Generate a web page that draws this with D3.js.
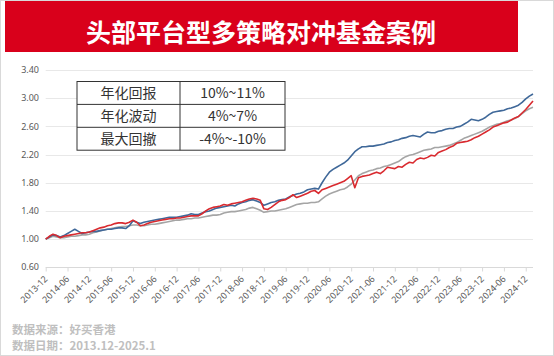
<!DOCTYPE html>
<html><head><meta charset="utf-8">
<script src="https://cdn.jsdelivr.net/npm/d3@7"></script>
<style>html,body{margin:0;padding:0;background:#fff;}svg{display:block;}</style>
</head><body>
<svg id="c" width="554" height="356"></svg>
<script>
const title = "头部平台型多策略对冲基金案例";
const startYear = 2013, startMonth = 12;
const yTicks = [0.60, 1.00, 1.40, 1.80, 2.20, 2.60, 3.00, 3.40];
const xTickLabels = ["2013-12","2014-06","2014-12","2015-06","2015-12","2016-06","2016-12","2017-06","2017-12","2018-06","2018-12","2019-06","2019-12","2020-06","2020-12","2021-06","2021-12","2022-06","2022-12","2023-06","2023-12","2024-06","2024-12"];
const tableRows = [["年化回报","10%~11%"],["年化波动","4%~7%"],["最大回撤","-4%~-10%"]];
const footer = ["数据来源：好买香港","数据日期：2013.12-2025.1"];

const blue = [1.00,1.03,1.06,1.05,1.03,1.05,1.08,1.11,1.14,1.11,1.08,1.09,1.10,1.11,1.11,1.12,1.13,1.14,1.14,1.15,1.16,1.16,1.15,1.19,1.26,1.24,1.22,1.24,1.25,1.26,1.27,1.28,1.29,1.30,1.31,1.31,1.31,1.32,1.33,1.34,1.36,1.35,1.35,1.37,1.39,1.40,1.42,1.44,1.45,1.46,1.47,1.48,1.47,1.50,1.52,1.53,1.55,1.56,1.54,1.52,1.48,1.50,1.52,1.53,1.55,1.56,1.57,1.60,1.62,1.64,1.65,1.67,1.70,1.71,1.72,1.71,1.80,1.88,1.95,1.99,2.02,2.05,2.08,2.12,2.18,2.24,2.28,2.31,2.31,2.32,2.32,2.33,2.34,2.35,2.37,2.38,2.40,2.41,2.43,2.44,2.46,2.47,2.46,2.45,2.49,2.52,2.51,2.51,2.53,2.54,2.56,2.57,2.57,2.59,2.60,2.63,2.66,2.70,2.69,2.68,2.70,2.73,2.77,2.80,2.81,2.82,2.83,2.85,2.86,2.88,2.90,2.94,2.99,3.03,3.06];
const red = [1.00,1.04,1.07,1.05,1.02,1.04,1.05,1.06,1.07,1.08,1.09,1.09,1.10,1.12,1.14,1.16,1.17,1.19,1.20,1.22,1.23,1.23,1.22,1.24,1.27,1.24,1.19,1.20,1.22,1.24,1.25,1.26,1.27,1.28,1.29,1.29,1.30,1.30,1.31,1.32,1.33,1.33,1.33,1.36,1.40,1.43,1.45,1.46,1.47,1.49,1.48,1.50,1.51,1.52,1.53,1.55,1.57,1.58,1.57,1.55,1.43,1.42,1.45,1.49,1.53,1.55,1.56,1.59,1.63,1.59,1.61,1.63,1.65,1.68,1.69,1.65,1.70,1.72,1.74,1.76,1.78,1.80,1.82,1.86,1.90,1.73,1.87,1.89,1.90,1.91,1.93,1.95,1.93,1.97,2.02,2.01,2.00,2.03,2.02,2.06,2.09,2.08,2.13,2.15,2.14,2.16,2.19,2.18,2.23,2.25,2.27,2.30,2.32,2.36,2.37,2.38,2.39,2.41,2.44,2.46,2.49,2.52,2.55,2.59,2.61,2.63,2.65,2.66,2.69,2.72,2.74,2.79,2.84,2.90,2.96];
const gray = [1.00,1.02,1.04,1.03,1.02,1.02,1.03,1.04,1.04,1.05,1.06,1.06,1.07,1.09,1.10,1.12,1.13,1.14,1.15,1.16,1.17,1.18,1.18,1.19,1.20,1.20,1.19,1.19,1.20,1.21,1.21,1.22,1.23,1.24,1.25,1.26,1.27,1.27,1.28,1.29,1.29,1.30,1.30,1.31,1.32,1.33,1.34,1.34,1.35,1.37,1.38,1.39,1.39,1.40,1.41,1.42,1.44,1.45,1.43,1.41,1.38,1.39,1.40,1.40,1.41,1.42,1.43,1.45,1.47,1.49,1.50,1.51,1.51,1.52,1.52,1.53,1.57,1.61,1.64,1.66,1.68,1.70,1.71,1.74,1.78,1.84,1.90,1.93,1.95,1.97,1.98,2.00,2.01,2.03,2.04,2.06,2.08,2.10,2.14,2.17,2.19,2.20,2.22,2.24,2.26,2.27,2.28,2.30,2.30,2.31,2.32,2.33,2.35,2.37,2.40,2.43,2.45,2.47,2.49,2.51,2.53,2.56,2.59,2.61,2.63,2.64,2.66,2.68,2.69,2.71,2.74,2.78,2.82,2.85,2.87];

const svg = d3.select("#c");
const CJK = "'Noto Sans CJK SC','Noto Sans',sans-serif";

svg.append("rect").attr("x",0.5).attr("y",0.5).attr("width",553).attr("height",355).attr("fill","#fff").attr("stroke","#d9d9d9");
svg.append("rect").attr("x",5).attr("y",1).attr("width",513).attr("height",51).attr("fill","#d9001b");
svg.append("text").attr("x",261).attr("y",42).attr("text-anchor","middle").attr("fill","#fff")
  .attr("font-family",CJK).attr("font-weight","bold").attr("font-size",25).text(title);

const n = blue.length;
const x = d3.scaleLinear().domain([0, n-1]).range([45.7, 533]);
const y = d3.scaleLinear().domain([0.6, 3.4]).range([267.3, 70]);

// grid
svg.append("g").selectAll("line").data(yTicks).join("line")
  .attr("x1",45.7).attr("x2",533).attr("y1",d=>Math.round(y(d))+0.5).attr("y2",d=>Math.round(y(d))+0.5)
  .attr("stroke",(d,i)=>i===0?"#d9d9d9":"#e8e8e8").attr("stroke-width",1);

// y labels
svg.append("g").selectAll("text").data(yTicks).join("text")
  .attr("x",39).attr("y",d=>y(d)).attr("dy","0.35em").attr("text-anchor","end")
  .attr("font-family","'Noto Sans',sans-serif").attr("font-size",9).attr("fill","#595959")
  .text(d=>d.toFixed(2));

// x ticks
const xTickIdx = xTickLabels.map((l,i)=>i*6);
const xAxis = d3.axisBottom(x).tickValues(xTickIdx).tickSize(4).tickFormat((d,i)=>xTickLabels[i]);
const gx = svg.append("g").attr("transform","translate(0,267.5)").call(xAxis);
gx.select(".domain").remove();
gx.selectAll(".tick line").attr("stroke","#d9d9d9");
gx.selectAll(".tick text").attr("font-family","'Noto Sans',sans-serif").attr("font-size",9).attr("fill","#595959")
  .attr("text-anchor","end").attr("y",0).attr("dy",0)
  .attr("transform","translate(2,12) rotate(-45)");

// lines
const line = d3.line().x((d,i)=>x(i)).y(d=>y(d));
[[gray,"#a5a5a5"],[blue,"#3f6899"],[red,"#d92a2f"]].forEach(([data,col])=>{
  svg.append("path").datum(data).attr("d",line).attr("fill","none").attr("stroke",col).attr("stroke-width",1.6).attr("stroke-linejoin","round");
});

// table
const tx0 = 77, tx1 = 180, tx2 = 285, ty0 = 81.5, rh = 22.9;
const tg = svg.append("g");
tg.append("rect").attr("x",tx0).attr("y",ty0).attr("width",tx2-tx0).attr("height",rh*3).attr("fill","#fff").attr("stroke","#333").attr("stroke-width",1);
tg.append("line").attr("x1",tx1).attr("x2",tx1).attr("y1",ty0).attr("y2",ty0+rh*3).attr("stroke","#333");
[1,2].forEach(k=>tg.append("line").attr("x1",tx0).attr("x2",tx2).attr("y1",ty0+rh*k).attr("y2",ty0+rh*k).attr("stroke","#333"));
tableRows.forEach((r,i)=>{
  tg.append("text").attr("x",(tx0+tx1)/2).attr("y",ty0+rh*i+rh/2).attr("dy","0.36em").attr("text-anchor","middle")
    .attr("font-family",CJK).attr("font-size",14).attr("fill","#333").text(r[0]);
  tg.append("text").attr("x",(tx1+tx2)/2).attr("y",ty0+rh*i+rh/2).attr("dy","0.36em").attr("text-anchor","middle")
    .attr("font-family",CJK).attr("font-size",14).attr("fill","#333").text(r[1]);
});

// footer
footer.forEach((t,i)=>{
  svg.append("text").attr("x",12).attr("y",329.5+i*16.8).attr("dy","0.36em")
    .attr("font-family",CJK).attr("font-weight","bold").attr("font-size",11.5).attr("fill","#bfbfbf").text(t);
});
</script>
</body></html>
